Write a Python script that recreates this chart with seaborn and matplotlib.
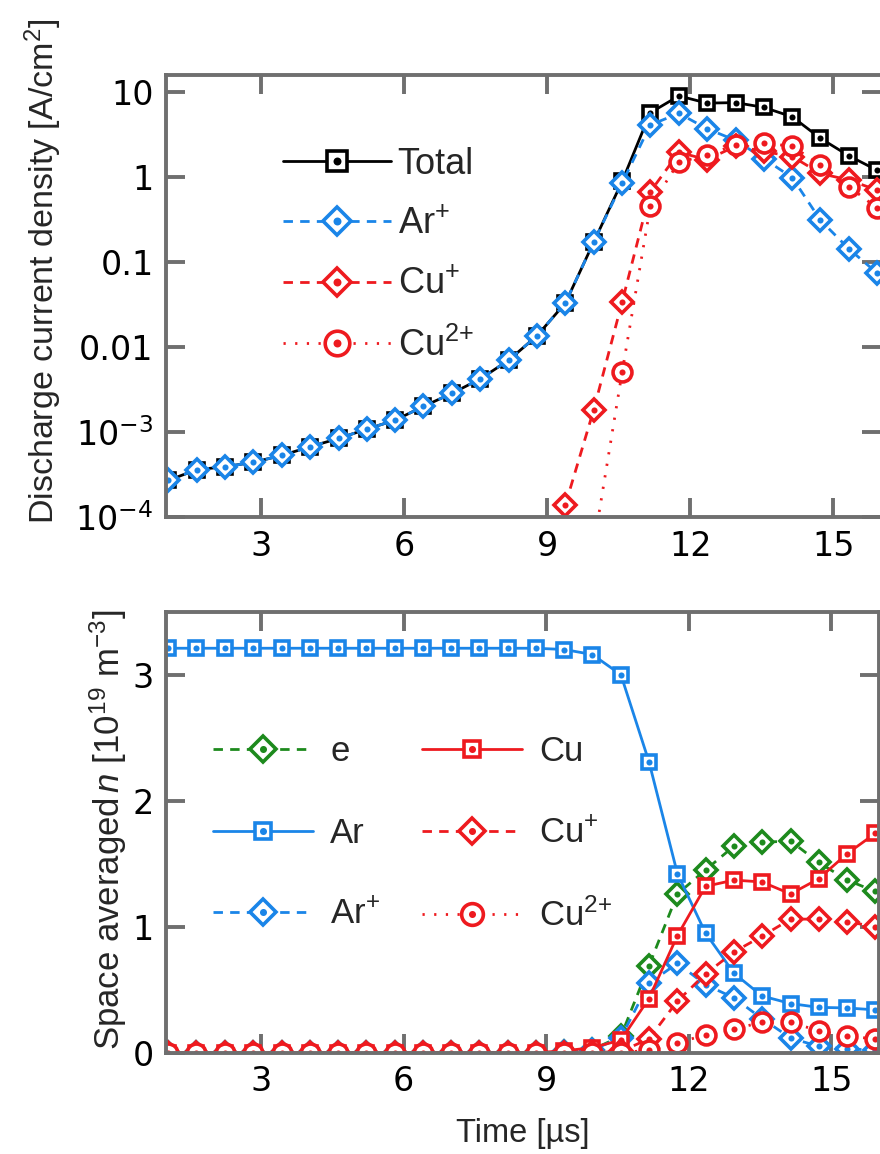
import numpy as np
import matplotlib
matplotlib.use("Agg")
import matplotlib.pyplot as plt
import seaborn as sns
from matplotlib.legend_handler import HandlerTuple
from matplotlib.ticker import NullLocator

nan = np.nan

# Sampling times [µs]
time_us = [1.05, 1.64, 2.24, 2.83, 3.43, 4.02, 4.62, 5.21, 5.81, 6.40, 7.00, 7.59, 8.19,
           8.78, 9.38, 9.97, 10.57, 11.16, 11.76, 12.35, 12.95, 13.54, 14.14, 14.73,
           15.33, 15.92]

# Discharge current density [A/cm^2]
j_total = [2.7e-4, 3.6e-4, 3.9e-4, 4.4e-4, 5.3e-4, 6.7e-4, 8.4e-4, 1.08e-3, 1.38e-3, 2.0e-3,
           2.85e-3, 4.2e-3, 7.0e-3, 1.35e-2, 3.3e-2, 0.17, 0.89, 5.7, 9.0, 7.4, 7.5, 6.6,
           5.1, 2.85, 1.77, 1.2]
j_ar_ion = [2.7e-4, 3.6e-4, 3.9e-4, 4.4e-4, 5.3e-4, 6.7e-4, 8.4e-4, 1.08e-3, 1.38e-3, 2.0e-3,
            2.85e-3, 4.2e-3, 7.0e-3, 1.35e-2, 3.3e-2, 0.17, 0.85, 4.1, 5.6, 3.7, 2.7, 1.65,
            0.98, 0.31, 0.142, 0.074]
j_cu_ion = [nan, nan, nan, nan, nan, nan, nan, nan, nan, nan, nan, nan, nan, nan,
            1.4e-4, 1.8e-3, 0.034, 0.67, 1.95, 1.6, 2.3, 2.0, 1.74, 1.1, 0.92, 0.70]
j_cu2_ion = [nan, nan, nan, nan, nan, nan, nan, nan, nan, nan, nan, nan, nan, nan, nan,
             4.5e-5, 5.1e-3, 0.45, 1.5, 1.8, 2.4, 2.5, 2.3, 1.38, 0.77, 0.43]

# Space averaged densities [1e19 m^-3]
n_e = [0, 0, 0, 0, 0, 0, 0, 0, 0, 0, 0, 0, 0, 0, 0.005, 0.025, 0.13, 0.69, 1.26, 1.45,
       1.64, 1.67, 1.68, 1.51, 1.37, 1.28]
n_ar = [3.21, 3.21, 3.21, 3.21, 3.21, 3.21, 3.21, 3.21, 3.21, 3.21, 3.21, 3.21, 3.21, 3.21,
        3.20, 3.16, 3.0, 2.31, 1.42, 0.95, 0.63, 0.45, 0.39, 0.36, 0.355, 0.34]
n_ar_ion = [0, 0, 0, 0, 0, 0, 0, 0, 0, 0, 0, 0, 0, 0, 0.004, 0.022, 0.12, 0.55, 0.71, 0.54,
            0.435, 0.27, 0.117, 0.05, 0.03, 0.02]
n_cu = [0, 0, 0, 0, 0, 0, 0, 0, 0, 0, 0, 0, 0, 0, 0.015, 0.04, 0.10, 0.43, 0.93, 1.32,
        1.37, 1.355, 1.26, 1.38, 1.58, 1.74]
n_cu_ion = [0, 0, 0, 0, 0, 0, 0, 0, 0, 0, 0, 0, 0, 0, 0, 0, 0.01, 0.11, 0.41, 0.625,
            0.80, 0.925, 1.06, 1.06, 1.04, 1.0]
n_cu2_ion = [0, 0, 0, 0, 0, 0, 0, 0, 0, 0, 0, 0, 0, 0, 0, 0, 0, 0.02, 0.08, 0.14, 0.19,
             0.24, 0.24, 0.175, 0.13, 0.11]

x_ticks = [3, 6, 9, 12, 15]
j_ticks = [1e-4, 1e-3, 1e-2, 1e-1, 1, 10]
j_tick_labels = ["$10^{-4}$", "$10^{-3}$", "0.01", "0.1", "1", "10"]
n_ticks = [0, 1, 2, 3]

BLACK = "#000000"
BLUE = "#1a85e8"
RED = "#ee1a1f"
GREEN = "#1d8a1d"
GRAY = "#6f6f6f"

SOLID = "-"
DASHED = (0, (3.4, 2.6))
DOTTED = (0, (0.8, 3.4))

sns.set_theme(style="ticks")
plt.rcParams["font.family"] = ["Liberation Sans", "DejaVu Sans"]
plt.rcParams["mathtext.fontset"] = "custom"
plt.rcParams["mathtext.rm"] = "Liberation Sans"
plt.rcParams["mathtext.it"] = "Liberation Sans:italic"
plt.rcParams["mathtext.bf"] = "Liberation Sans:bold"

W, H = 880, 1154
fig = plt.figure(figsize=(W / 100, H / 100), dpi=100)
fig.patch.set_facecolor("white")

ax1 = fig.add_axes([166 / W, 1 - 517 / H, (881 - 166) / W, (517 - 75) / H])
ax2 = fig.add_axes([166 / W, 1 - 1052.7 / H, (879 - 166) / W, (1052.7 - 611.7) / H])

MS = {"s": 10.6, "D": 11.2, "o": 13.6}
LW = 2.0
MEW = 2.6


def draw(ax, y, color, ls, marker, z):
    sns.lineplot(x=time_us, y=y, ax=ax, color=color, marker=marker)
    main = ax.lines[-1]
    main.set_linestyle(ls)
    main.set_linewidth(LW)
    main.set_marker(marker)
    main.set_markersize(MS[marker])
    main.set_markerfacecolor("white")
    main.set_markeredgecolor(color)
    main.set_markeredgewidth(MEW)
    main.set_zorder(z)
    sns.lineplot(x=time_us, y=y, ax=ax, color=color, marker="o")
    dot = ax.lines[-1]
    dot.set_linestyle("None")
    dot.set_markersize(4.4)
    dot.set_markerfacecolor(color)
    dot.set_markeredgecolor(color)
    dot.set_markeredgewidth(0)
    dot.set_zorder(z + 0.001)
    return (main, dot)


ax1.set_yscale("log")
top_series = [
    (j_total, BLACK, SOLID, "s", "Total"),
    (j_ar_ion, BLUE, DASHED, "D", "Ar$^{+}$"),
    (j_cu_ion, RED, DASHED, "D", "Cu$^{+}$"),
    (j_cu2_ion, RED, DOTTED, "o", "Cu$^{2{+}}$"),
]
top_handles, top_labels = [], []
for i, (vals, col, ls, mk, lab) in enumerate(top_series):
    top_handles.append(draw(ax1, vals, col, ls, mk, 2.0 + 0.01 * i))
    top_labels.append(lab)

bottom_series = [
    (n_e, GREEN, DASHED, "D", "e"),
    (n_ar, BLUE, SOLID, "s", "Ar"),
    (n_ar_ion, BLUE, DASHED, "D", "Ar$^{+}$"),
    (n_cu, RED, SOLID, "s", "Cu"),
    (n_cu_ion, RED, DASHED, "D", "Cu$^{+}$"),
    (n_cu2_ion, RED, DOTTED, "o", "Cu$^{2{+}}$"),
]
bot_handles, bot_labels = [], []
for i, (vals, col, ls, mk, lab) in enumerate(bottom_series):
    bot_handles.append(draw(ax2, vals, col, ls, mk, 2.0 + 0.01 * i))
    bot_labels.append(lab)

for ax in (ax1, ax2):
    ax.set_xlim(1, 16)
    ax.set_xticks(x_ticks)
    ax.set_xticklabels([str(v) for v in x_ticks])
    ax.tick_params(which="major", direction="in", length=14, width=2.8, color=GRAY,
                   top=True, right=True, labelsize=24, pad=9, labelcolor="black")
    for sp in ax.spines.values():
        sp.set_visible(True)
        sp.set_linewidth(2.8)
        sp.set_color(GRAY)
    ax.set_facecolor("white")
    ax.grid(False)
    ax.set_xlabel("")
    ax.set_ylabel("")

ax1.set_ylim(1e-4, 10 ** 1.2)
ax1.set_yticks(j_ticks)
ax1.set_yticklabels(j_tick_labels)
ax1.yaxis.set_minor_locator(NullLocator())
ax1.xaxis.set_minor_locator(NullLocator())
ax1.set_ylabel("Discharge current density [A/cm$^{2}$]", fontsize=24.5)
ax1.yaxis.set_label_coords(-0.143, 0.555)

ax2.set_ylim(0, 3.5)
ax2.set_yticks(n_ticks)
ax2.set_yticklabels([str(v) for v in n_ticks])
ax2.set_ylabel("Space averaged$\\,n$ [10$^{19}$ m$^{-3}$]", fontsize=25)
ax2.yaxis.set_label_coords(-0.052, 0.505)
ax2.set_xlabel("Time [µs]", fontsize=23.5, labelpad=14)

# Tick labels in a wider sans face
for ax in (ax1, ax2):
    for lab in ax.get_xticklabels() + ax.get_yticklabels():
        lab.set_fontfamily("DejaVu Sans")
        lab.set_math_fontfamily("dejavusans")

ax1.legend(top_handles, top_labels, handler_map={tuple: HandlerTuple(ndivide=1)},
           loc="upper left", bbox_to_anchor=(0.164, 0.838), frameon=False,
           borderpad=0, borderaxespad=0, handlelength=2.97, handletextpad=0.2,
           labelspacing=0.7, markerscale=1.3, fontsize=26, numpoints=1)

ax2.legend(bot_handles, bot_labels, handler_map={tuple: HandlerTuple(ndivide=1)},
           loc="upper left", bbox_to_anchor=(0.066, 0.72), frameon=False, ncol=2,
           borderpad=0, borderaxespad=0, handlelength=2.88, handletextpad=0.5,
           labelspacing=1.4, columnspacing=1.2, markerscale=1.15, fontsize=25,
           numpoints=1)

fig.savefig("out.png", dpi=100, facecolor="white")
